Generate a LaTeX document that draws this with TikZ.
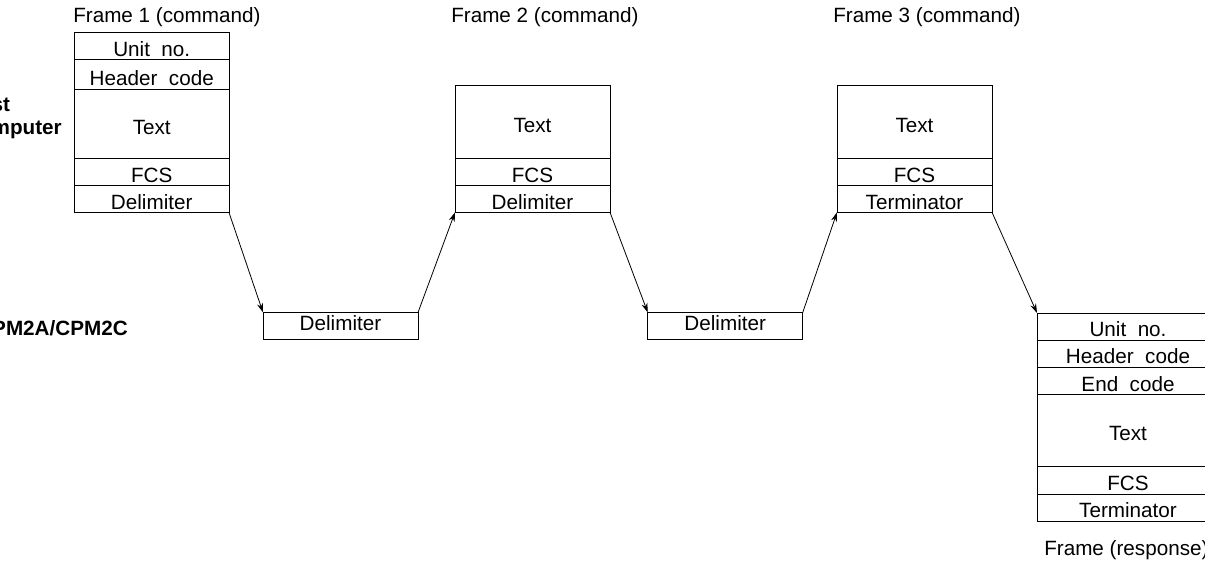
\documentclass[tikz,border=0pt]{standalone}
\usepackage{fontspec}
\setmainfont{Liberation Sans}
\usetikzlibrary{arrows.meta}
\begin{document}
\begin{tikzpicture}[x=0.75pt,y=-0.75pt,
  every node/.style={font=\fontsize{15.5}{18.6}\selectfont},
  row/.style={draw, line width=0.7pt, inner sep=0pt, outer sep=0pt, text height=15.6pt, text depth=0pt},
  delim/.style={draw, line width=0.7pt, inner sep=0pt, outer sep=0pt, minimum width=155*0.75pt, minimum height=26.5*0.75pt, text height=10.9pt, text depth=3.8pt},
  lab/.style={inner sep=0pt, anchor=base west},
  side/.style={inner sep=0pt, font=\bfseries\fontsize{15.5}{17.25}\selectfont},
  conn/.style={line width=0.6pt, -{Stealth[length=7pt,width=4.5pt]}}]
\useasboundingbox (0,0) rectangle (1205,566);

% Frame 1
\node[row, minimum width=154.5*0.75pt, minimum height=27.5*0.75pt] (f1u) at (151.75,45.75) {Unit~ no.};
\node[row, minimum width=154.5*0.75pt, minimum height=30.3*0.75pt] (f1h) at (151.75,74.65) {Header~ code};
\node[row, minimum width=154.5*0.75pt, minimum height=69*0.75pt] (f1t) at (151.75,124.3) {Text};
\node[row, minimum width=154.5*0.75pt, minimum height=27*0.75pt] (f1f) at (151.75,172.3) {FCS};
\node[row, minimum width=154.5*0.75pt, minimum height=26.7*0.75pt] (f1d) at (151.75,199.15) {Delimiter};

% Frame 2
\node[row, minimum width=155*0.75pt, minimum height=73*0.75pt] (f2t) at (532.5,122.2) {Text};
\node[row, minimum width=155*0.75pt, minimum height=26.8*0.75pt] (f2f) at (532.5,172.1) {FCS};
\node[row, minimum width=155*0.75pt, minimum height=26.8*0.75pt] (f2d) at (532.5,198.9) {Delimiter};

% Frame 3
\node[row, minimum width=155*0.75pt, minimum height=73*0.75pt] (f3t) at (914.5,122.2) {Text};
\node[row, minimum width=155*0.75pt, minimum height=26.8*0.75pt] (f3f) at (914.5,172.1) {FCS};
\node[row, minimum width=155*0.75pt, minimum height=26.8*0.75pt] (f3d) at (914.5,198.9) {Terminator};

% Response frame
\node[row, minimum width=182*0.75pt, minimum height=27*0.75pt] (ru) at (1128,326.5) {Unit~ no.};
\node[row, minimum width=182*0.75pt, minimum height=27*0.75pt] (rh) at (1128,353.5) {Header~ code};
\node[row, minimum width=182*0.75pt, minimum height=27.3*0.75pt] (re) at (1128,380.65) {End~ code};
\node[row, minimum width=182*0.75pt, minimum height=72.4*0.75pt] (rt) at (1128,430.5) {Text};
\node[row, minimum width=182*0.75pt, minimum height=27.3*0.75pt] (rf) at (1128,480.35) {FCS};
\node[row, minimum width=182*0.75pt, minimum height=27*0.75pt] (rd) at (1128,507.5) {Terminator};

% Delimiter boxes
\node[delim] (d1) at (340.5,325.75) {Delimiter};
\node[delim] (d2) at (725.25,325.75) {Delimiter};

% Labels
\node[lab] (l1) at (73,23) {Frame 1 (command)};
\node[lab] (l2) at (451,23) {Frame 2 (command)};
\node[lab] (l3) at (833,23) {Frame 3 (command)};
\node[lab] (lr) at (1044,555) {Frame (response)};
\node[side, align=left, anchor=north east] (host) at (62,97.2) {Host\\Computer};
\node[side, anchor=base east] (cpm) at (128,335) {CPM2A/CPM2C};

% Connectors
\draw[conn] (f1d.south east) -- (d1.north west);
\draw[conn] (d1.north east) -- (f2d.south west);
\draw[conn] (f2d.south east) -- (d2.north west);
\draw[conn] (d2.north east) -- (f3d.south west);
\draw[conn] (f3d.south east) -- (ru.north west);
\end{tikzpicture}
\end{document}
